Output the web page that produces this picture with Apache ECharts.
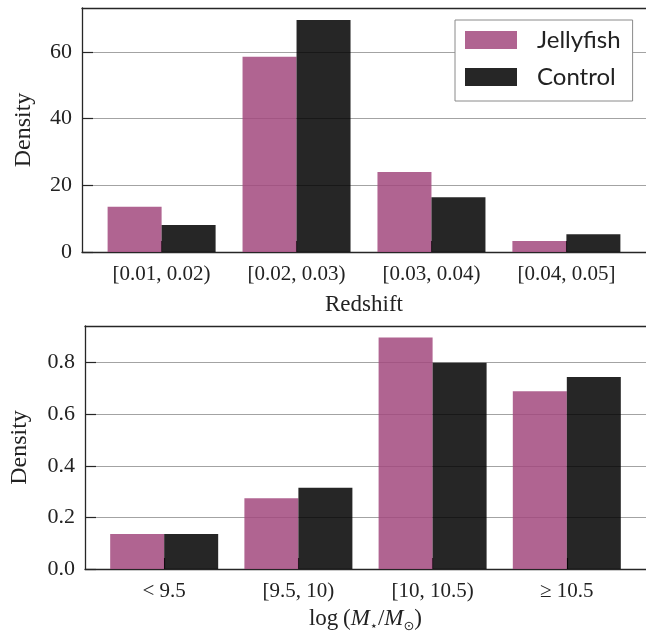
<!DOCTYPE html>
<html>
<head>
<meta charset="utf-8">
<script src="https://cdn.jsdelivr.net/npm/echarts@6/dist/echarts.min.js"></script>
<style>html,body{margin:0;padding:0;background:#fff;}#c{width:646px;height:643px;}</style>
</head>
<body>
<div id="c"></div>
<script>
const redshiftBins = ['[0.01, 0.02)', '[0.02, 0.03)', '[0.03, 0.04)', '[0.04, 0.05]'];
const massBins = ['< 9.5', '[9.5, 10)', '[10, 10.5)', '\u2265 10.5'];
const jellyRedshift = [13.6, 58.6, 24.0, 3.3];
const controlRedshift = [8.1, 69.6, 16.4, 5.3];
const jellyMass = [0.136, 0.274, 0.897, 0.689];
const controlMass = [0.136, 0.315, 0.800, 0.744];
const redshiftTicks = [0, 20, 40, 60];
const massTicks = [0, 0.2, 0.4, 0.6, 0.8];

const PINK = 'rgba(162,73,126,0.85)';
const DARK = 'rgba(0,0,0,0.85)';
const SERIF = 'Liberation Serif';
const AX = '#262626';
const GRID = '#a3a3a3';
const catIdx = [0, 1, 2, 3];

function xAxes(gridIndex, cats, name, nameGap, nameRich) {
  return [{
    type: 'value', gridIndex, min: -0.59, max: 3.59, position: 'bottom',
    axisLine: {show: true, onZero: false, lineStyle: {color: AX, width: 1.3}},
    axisTick: {show: true, inside: true, length: 11, customValues: catIdx, lineStyle: {color: AX, width: 1.2}},
    axisLabel: {customValues: catIdx, formatter: v => cats[Math.round(v)], fontFamily: SERIF, fontSize: 21, color: '#222', margin: 12},
    splitLine: {show: false},
    name, nameLocation: 'middle', nameGap,
    nameTextStyle: nameRich ? {rich: nameRich} : {fontFamily: SERIF, fontSize: 23, color: '#222'}
  }, {
    type: 'value', gridIndex, min: -0.59, max: 3.59, position: 'top',
    axisLine: {show: true, onZero: false, lineStyle: {color: AX, width: 1.3}},
    axisTick: {show: false}, axisLabel: {show: false}, splitLine: {show: false}
  }];
}

function yAxis(gridIndex, max, interval, ticks, fmt, nameGap) {
  return {
    type: 'value', gridIndex, min: 0, max, interval, position: 'left',
    axisLine: {show: true, onZero: false, lineStyle: {color: AX, width: 1.3}},
    axisTick: {show: true, inside: true, length: 11, customValues: ticks, lineStyle: {color: AX, width: 1.2}},
    axisLabel: {customValues: ticks, formatter: fmt, fontFamily: SERIF, fontSize: 22, color: '#222', margin: 10},
    splitLine: {show: true, lineStyle: {color: GRID, width: 1.2}},
    name: 'Density', nameLocation: 'middle', nameGap,
    nameTextStyle: {fontFamily: SERIF, fontSize: 24, color: '#222'}
  };
}

const massRich = {
  n: {fontFamily: SERIF, fontSize: 23, color: '#222', lineHeight: 28},
  i: {fontFamily: SERIF, fontStyle: 'italic', fontSize: 23, color: '#222', lineHeight: 28},
  s: {fontFamily: 'DejaVu Sans', fontSize: 13, color: '#222', lineHeight: 14, verticalAlign: 'bottom'}
};

const chart = echarts.init(document.getElementById('c'), null, {renderer: 'canvas'});
const toPts = arr => arr.map((v, i) => [i, v]);
chart.setOption({
  animation: false,
  backgroundColor: '#fff',
  grid: [
    {left: 82, right: -4, top: 8, height: 244},
    {left: 82, right: -4, top: 326, height: 243}
  ],
  legend: {
    data: ['Jellyfish', 'Control'], orient: 'vertical', left: 455, top: 20,
    icon: 'rect', itemWidth: 52, itemHeight: 18, itemGap: 13,
    padding: [8, 12, 12, 10],
    backgroundColor: '#fff', borderColor: '#8a8a8a', borderWidth: 1, borderRadius: 0,
    textStyle: {fontFamily: 'Lato', fontSize: 24, color: '#222', lineHeight: 23, padding: [0, 0, 0, 15]}
  },
  xAxis: [
    ...xAxes(0, redshiftBins, 'Redshift', 41),
    ...xAxes(1, massBins, '{n|log\u2009(}{i|M}{s|\u22c6}{n|/}{i|M}{s|\u2299}{n|)}', 36, massRich)
  ],
  yAxis: [
    yAxis(0, 73.2, 20, redshiftTicks, v => String(v), 46),
    yAxis(1, 0.942, 0.2, massTicks, v => v.toFixed(1), 53)
  ],
  series: [
    {name: 'Jellyfish', type: 'bar', xAxisIndex: 0, yAxisIndex: 0, data: toPts(jellyRedshift), barWidth: 54, barGap: '0%', itemStyle: {color: PINK}},
    {name: 'Control', type: 'bar', xAxisIndex: 0, yAxisIndex: 0, data: toPts(controlRedshift), barWidth: 54, barGap: '0%', itemStyle: {color: DARK}},
    {name: 'Jellyfish', type: 'bar', xAxisIndex: 2, yAxisIndex: 1, data: toPts(jellyMass), barWidth: 54, barGap: '0%', itemStyle: {color: PINK}},
    {name: 'Control', type: 'bar', xAxisIndex: 2, yAxisIndex: 1, data: toPts(controlMass), barWidth: 54, barGap: '0%', itemStyle: {color: DARK}}
  ]
});
</script>
</body>
</html>
